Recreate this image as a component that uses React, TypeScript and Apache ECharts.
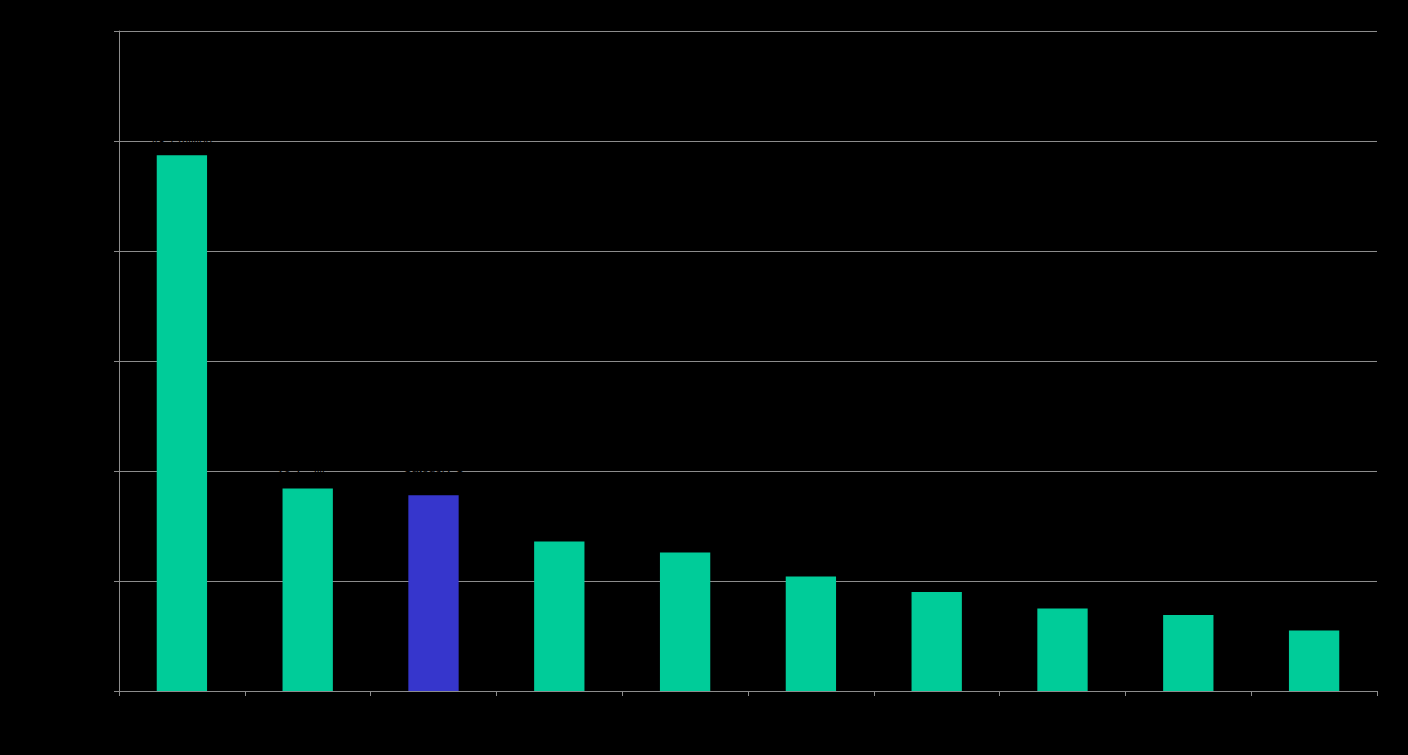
import React, { useEffect, useRef } from "react";
import * as echarts from "echarts";

const categories = ["A", "B", "C", "D", "E", "F", "G", "H", "I", "J"];
const values = [48.7, 18.4, 17.8, 13.6, 12.6, 10.4, 9.0, 7.5, 6.9, 5.5];
const highlightIndex = 2;
const labelledCount = 3;
const yTicks = { min: 0, max: 60, interval: 10 };

const GREEN = "#00CC99";
const BLUE = "#3636CC";
const GRID = "#8c8c8c";

export default function App() {
  const ref = useRef<HTMLDivElement>(null);
  useEffect(() => {
    if (!ref.current) return;
    const chart = echarts.init(ref.current, null, { renderer: "svg" });
    chart.setOption({
      animation: false,
      backgroundColor: "#000000",
      grid: { left: 119, right: 31, top: 31, bottom: 64 },
      xAxis: {
        type: "category",
        data: categories,
        axisLine: { show: true, lineStyle: { color: GRID, width: 1 } },
        axisTick: { show: true, length: 5, lineStyle: { color: GRID } },
        axisLabel: { color: "#000000", fontSize: 12, margin: 10 },
      },
      yAxis: {
        type: "value",
        min: yTicks.min,
        max: yTicks.max,
        interval: yTicks.interval,
        axisLine: { show: true, lineStyle: { color: GRID, width: 1 } },
        axisTick: { show: true, length: 5, lineStyle: { color: GRID } },
        axisLabel: { color: "#000000", fontSize: 12 },
        splitLine: { show: true, lineStyle: { color: GRID, width: 1 } },
      },
      series: [
        {
          type: "bar",
          barWidth: "40%",
          data: values.map((v, i) => ({
            value: v,
            itemStyle: { color: i === highlightIndex ? BLUE : GREEN },
            label: {
              show: i < labelledCount,
              position: "top",
              distance: 6,
              color: "#000000",
              fontSize: 12,
              lineHeight: 14,
              fontFamily: "Liberation Sans, Arial, sans-serif",
              formatter: (p: any) => "Category " + p.name + "\n" + p.value.toFixed(1) + " million",
            },
          })),
        },
      ],
    });
    return () => chart.dispose();
  }, []);
  return (
    <div style={{ position: "fixed", inset: 0, background: "#000" }}>
      <div ref={ref} style={{ width: 1408, height: 755 }} />
    </div>
  );
}
